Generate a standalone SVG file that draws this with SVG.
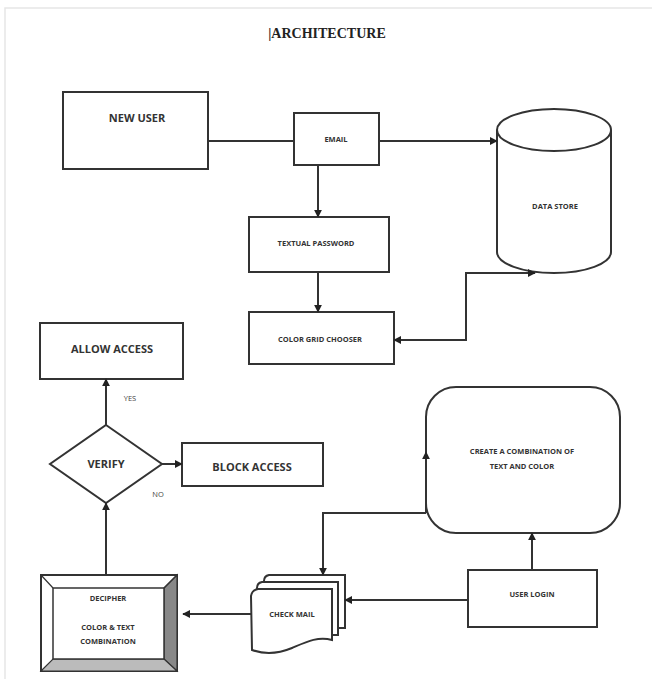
<svg xmlns="http://www.w3.org/2000/svg" width="652" height="679" viewBox="0 0 652 679">
<style>
.box{fill:#fff;stroke:#333;stroke-width:2}
.ln{fill:none;stroke:#333;stroke-width:2}
.t{font-family:"Open Sans","Liberation Sans",sans-serif;font-size:7.5px;font-weight:bold;fill:#333;text-anchor:middle}
.tl{font-family:"Open Sans","Liberation Sans",sans-serif;font-size:11px;font-weight:bold;fill:#333;text-anchor:middle}
.lbl{font-family:"Open Sans","Liberation Sans",sans-serif;font-size:7.5px;fill:#444;text-anchor:middle}
</style>
<defs>
<marker id="ah" viewBox="0 0 10 10" refX="9" refY="5" markerWidth="8" markerHeight="8" orient="auto-start-reverse" markerUnits="userSpaceOnUse">
<path d="M0,0 L10,5 L0,10 z" fill="#222"/>
</marker>
</defs>
<rect width="652" height="679" fill="#fff"/>
<path d="M5 679 L5 8 L652 8" fill="none" stroke="#e6e6e6" stroke-width="1.5"/>
<text x="327" y="38" font-family="'Liberation Serif',serif" font-size="14" font-weight="bold" fill="#222" text-anchor="middle">|ARCHITECTURE</text>

<g id="new-user">
<rect class="box" x="63" y="92" width="145" height="77"/>
<text class="tl" x="137" y="122">NEW USER</text>
</g>
<g id="email">
<rect class="box" x="294" y="113" width="85" height="52"/>
<text class="t" x="336" y="142">EMAIL</text>
</g>
<g id="data-store">
<path class="box" d="M497 130 L497 252 A57 21 0 0 0 611 252 L611 130"/>
<ellipse class="box" cx="554" cy="130" rx="57" ry="21"/>
<text class="t" x="555" y="209">DATA STORE</text>
</g>
<g id="textual-password">
<rect class="box" x="249" y="217" width="140" height="55"/>
<text class="t" x="316" y="246">TEXTUAL PASSWORD</text>
</g>
<g id="color-grid-chooser">
<rect class="box" x="249" y="312" width="145" height="52"/>
<text class="t" x="320" y="342">COLOR GRID CHOOSER</text>
</g>
<g id="allow-access">
<rect class="box" x="40" y="323" width="143" height="56"/>
<text class="tl" x="112" y="353">ALLOW ACCESS</text>
</g>
<text class="lbl" x="130" y="401">YES</text>
<g id="verify">
<polygon class="box" points="106,425 162,464 106,503 50,464"/>
<text class="tl" x="106" y="468">VERIFY</text>
</g>
<text class="lbl" x="158" y="497">NO</text>
<g id="block-access">
<rect class="box" x="182" y="443" width="141" height="43"/>
<text class="tl" x="252" y="471">BLOCK ACCESS</text>
</g>
<g id="create-combination">
<rect class="box" x="426" y="387" width="194" height="146" rx="30" ry="30"/>
<text class="t" x="522" y="454">CREATE A COMBINATION OF</text>
<text class="t" x="522" y="469">TEXT AND COLOR</text>
</g>
<g id="user-login">
<rect class="box" x="468" y="570" width="129" height="57"/>
<text class="t" x="532" y="597">USER LOGIN</text>
</g>
<g id="check-mail">
<path class="box" d="M269 575 L345 575 L345 628 L264 628 L264 581 Q264 576 269 575 Z"/>
<path class="box" d="M262 582 L338 582 L338 635 L257 635 L257 588 Q257 583 262 582 Z"/>
<path class="box" d="M258 589 L332 589 L332 640 C318 636 306 642 292 648 C280 653 266 655 252 650 L251 596 Q252 590 258 589 Z"/>
<text class="t" x="292" y="617">CHECK MAIL</text>
</g>
<g id="decipher">
<rect x="41" y="575" width="136" height="96" fill="#fff" stroke="#333" stroke-width="2"/>
<polygon points="164,588 177,575 177,671 164,659" fill="#888" stroke="#333" stroke-width="1.2"/>
<polygon points="53,659 164,659 177,671 41,671" fill="#bbb" stroke="#333" stroke-width="1.2"/>
<path d="M41 575 L53 588 M177 575 L164 588" stroke="#333" stroke-width="1.2"/>
<rect x="53" y="588" width="111" height="71" fill="#fff" stroke="#333" stroke-width="1.5"/>
<text class="t" x="108" y="601">DECIPHER</text>
<text class="t" x="108" y="630">COLOR &amp; TEXT</text>
<text class="t" x="108" y="644">COMBINATION</text>
</g>

<g id="connectors">
<path class="ln" d="M208 141 L294 141"/>
<path class="ln" d="M379 141 L497 141" marker-end="url(#ah)"/>
<path class="ln" d="M318 165 L318 217" marker-end="url(#ah)"/>
<path class="ln" d="M318 272 L318 312" marker-end="url(#ah)"/>
<path class="ln" d="M535 273 L466 273 L466 340 L394 340" marker-start="url(#ah)" marker-end="url(#ah)"/>
<path class="ln" d="M106 425 L106 379" marker-end="url(#ah)"/>
<path class="ln" d="M162 464 L182 464" marker-end="url(#ah)"/>
<path class="ln" d="M106 575 L106 503" marker-end="url(#ah)"/>
<path class="ln" d="M251 614 L183 614" marker-end="url(#ah)"/>
<path class="ln" d="M468 600 L345 600" marker-end="url(#ah)"/>
<path class="ln" d="M532 570 L532 533" marker-end="url(#ah)"/>
<path class="ln" d="M426 513 L323 513 L323 575" marker-end="url(#ah)"/>
<path class="ln" d="M426 513 L426 452" marker-end="url(#ah)"/>
</g>
</svg>
